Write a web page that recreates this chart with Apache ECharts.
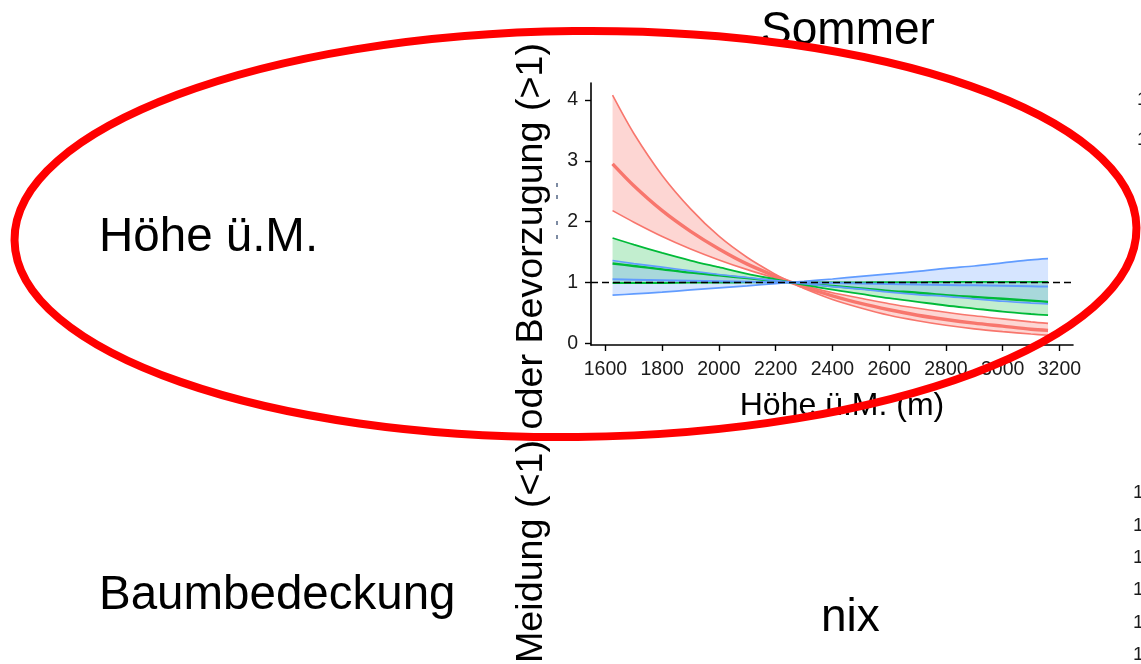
<!DOCTYPE html>
<html>
<head>
<meta charset="utf-8">
<title>Sommer – Höhe ü.M.</title>
<script src="https://cdn.jsdelivr.net/npm/echarts@6/dist/echarts.min.js"></script>
<style>
  html, body { margin: 0; padding: 0; background: #fff; }
  #chart { width: 1141px; height: 664px; }
</style>
</head>
<body>
<div id="chart"></div>
<script>
// Altitude (m) at which the response curves are sampled
const altitude = [1625, 1700, 1800, 1900, 2000, 2100, 2200, 2254, 2300, 2400, 2500, 2600, 2700, 2800, 2900, 3000, 3100, 3160];

// Red group: fitted curve and the two edges of its confidence band
const redMean  = [2.95, 2.59, 2.18, 1.84, 1.55, 1.30, 1.10, 1.00, 0.92, 0.78, 0.655, 0.55, 0.46, 0.39, 0.33, 0.28, 0.23, 0.21];
const redEdgeA = [4.08, 3.45, 2.76, 2.21, 1.76, 1.41, 1.13, 1.00, 0.90, 0.72, 0.58, 0.46, 0.37, 0.295, 0.236, 0.19, 0.15, 0.13];
const redEdgeB = [2.18, 1.99, 1.755, 1.55, 1.37, 1.21, 1.07, 1.00, 0.945, 0.83, 0.74, 0.65, 0.575, 0.51, 0.45, 0.40, 0.35, 0.325];

// Green group
const greenMean  = [1.31, 1.27, 1.215, 1.16, 1.115, 1.07, 1.02, 1.00, 0.98, 0.94, 0.90, 0.86, 0.83, 0.79, 0.76, 0.73, 0.70, 0.68];
const greenEdgeA = [1.73, 1.62, 1.485, 1.36, 1.25, 1.14, 1.05, 1.00, 0.96, 0.88, 0.81, 0.74, 0.68, 0.62, 0.57, 0.52, 0.48, 0.46];
const greenEdgeB = [0.99, 0.99, 0.99, 0.995, 0.995, 1.00, 1.00, 1.00, 1.00, 1.00, 1.00, 1.005, 1.005, 1.01, 1.01, 1.01, 1.01, 1.01];

// Blue group
const blueMean  = [1.05, 1.044, 1.036, 1.028, 1.02, 1.012, 1.004, 1.00, 0.996, 0.989, 0.981, 0.973, 0.966, 0.958, 0.951, 0.944, 0.936, 0.932];
const blueEdgeA = [1.36, 1.31, 1.25, 1.19, 1.13, 1.08, 1.03, 1.00, 0.98, 0.93, 0.89, 0.84, 0.80, 0.77, 0.73, 0.69, 0.66, 0.645];
const blueEdgeB = [0.79, 0.81, 0.84, 0.876, 0.91, 0.944, 0.98, 1.00, 1.017, 1.056, 1.10, 1.14, 1.18, 1.23, 1.27, 1.32, 1.37, 1.39];

// Tick labels
const xTicks = [1600, 1800, 2000, 2200, 2400, 2600, 2800, 3000, 3200];
const yTicks = [0, 1, 2, 3, 4];

const FONT = '"Liberation Sans", Arial, sans-serif';
const RED = '#F8766D', GREEN = '#00BA38', BLUE = '#619CFF';

// Confidence band polygon between the two edge curves
function band(name, edgeA, edgeB, fill) {
  return {
    type: 'custom',
    name: name,
    silent: true,
    z: 1,
    data: altitude.map((x, i) => [x, edgeA[i], edgeB[i]]),
    encode: { x: 0, y: [1, 2] },
    renderItem: function (params, api) {
      if (params.dataIndex !== 0) return null;
      const pts = [];
      for (let i = 0; i < altitude.length; i++) pts.push(api.coord([altitude[i], edgeA[i]]));
      for (let i = altitude.length - 1; i >= 0; i--) pts.push(api.coord([altitude[i], edgeB[i]]));
      return { type: 'polygon', shape: { points: pts }, style: { fill: fill } };
    }
  };
}

function curve(name, values, color, width) {
  return {
    type: 'line',
    name: name,
    data: altitude.map((x, i) => [x, values[i]]),
    showSymbol: false,
    symbol: 'none',
    smooth: 0.3,
    silent: true,
    z: 3,
    lineStyle: { color: color, width: width },
    emphasis: { disabled: true }
  };
}

const lastSeries = curve('blau', blueMean, BLUE, 2);
lastSeries.markLine = {
  silent: true,
  symbol: ['none', 'none'],
  label: { show: false },
  lineStyle: { type: [7, 4], color: '#000', width: 1.4 },
  data: [{ yAxis: 1 }]
};

function label(text, x, y, size, align) {
  return { type: 'text', x: x, y: y, z: 50,
    style: { text: text, font: size + 'px ' + FONT, fill: '#000', align: align || 'left', verticalAlign: 'middle' } };
}

function edgeDigit(x, y) {
  return { type: 'text', x: x, y: y, z: 50,
    style: { text: '1', font: '19px ' + FONT, fill: '#1a1a1a', align: 'left', verticalAlign: 'middle' } };
}

const option = {
  animation: false,
  backgroundColor: '#fff',
  grid: { left: 591, right: 68, top: 83, bottom: 319, containLabel: false, outerBoundsMode: 'none' },
  xAxis: {
    type: 'value',
    min: 1549,
    max: 3248,
    name: 'Höhe ü.M. (m)',
    nameLocation: 'middle',
    nameGap: 45,
    nameTextStyle: { fontFamily: FONT, fontSize: 32, color: '#000', padding: [0, 0, 0, 20] },
    axisLine: { show: true, onZero: false, lineStyle: { color: '#000', width: 1.6 } },
    axisTick: { show: true, length: 6, lineStyle: { color: '#000', width: 1.4 }, customValues: xTicks },
    axisLabel: { fontFamily: FONT, fontSize: 19.5, color: '#1a1a1a', margin: 15, customValues: xTicks, formatter: v => String(v) },
    splitLine: { show: false }
  },
  yAxis: {
    type: 'value',
    min: -0.03,
    max: 4.28,
    axisLine: { show: true, onZero: false, lineStyle: { color: '#000', width: 1.6 } },
    axisTick: { show: true, length: 6, lineStyle: { color: '#000', width: 1.4 }, customValues: yTicks },
    axisLabel: { fontFamily: FONT, fontSize: 19.5, color: '#1a1a1a', margin: 13, customValues: yTicks, formatter: v => String(v) },
    splitLine: { show: false }
  },
  series: [
    band('rot', redEdgeA, redEdgeB, 'rgba(248,118,109,0.30)'),
    band('grün', greenEdgeA, greenEdgeB, 'rgba(0,186,56,0.24)'),
    band('blau', blueEdgeA, blueEdgeB, 'rgba(97,156,255,0.26)'),
    curve('rot A', redEdgeA, RED, 1.6),
    curve('rot B', redEdgeB, RED, 1.6),
    curve('rot', redMean, RED, 3.4),
    curve('grün A', greenEdgeA, GREEN, 1.8),
    curve('grün B', greenEdgeB, GREEN, 1.8),
    curve('grün', greenMean, GREEN, 2.4),
    curve('blau A', blueEdgeA, BLUE, 1.7),
    curve('blau B', blueEdgeB, BLUE, 1.7),
    lastSeries
  ],
  graphic: [
    label('Sommer', 848, 31, 46, 'center'),
    label('Höhe ü.M.', 99, 238, 47.5),
    label('Baumbedeckung', 99, 596, 47.5),
    label('nix', 821, 618, 46),
    { type: 'text', x: 532, y: 353, rotation: Math.PI / 2, z: 50,
      style: { text: 'Meidung (<1) oder Bevorzugung (>1)', font: '37.7px ' + FONT, fill: '#000', align: 'center', verticalAlign: 'middle' } },
    // neighbouring panel's tick labels, cut by the right edge
    edgeDigit(1137, 100),
    edgeDigit(1137, 140),
    edgeDigit(1133, 493),
    edgeDigit(1133, 526),
    edgeDigit(1133, 558),
    edgeDigit(1133, 590),
    edgeDigit(1133, 623),
    edgeDigit(1133, 655),
    // small leftover marks beside the y axis
    { type: 'rect', shape: { x: 556, y: 183, width: 2, height: 4 }, z: 50, style: { fill: '#7d8ba3' } },
    { type: 'rect', shape: { x: 556, y: 195, width: 2, height: 4 }, z: 50, style: { fill: '#7d8ba3' } },
    { type: 'rect', shape: { x: 556, y: 221, width: 2, height: 4 }, z: 50, style: { fill: '#7d8ba3' } },
    { type: 'rect', shape: { x: 556, y: 235, width: 2, height: 4 }, z: 50, style: { fill: '#7d8ba3' } },
    // red highlight ellipse around the altitude panel
    { type: 'ellipse', x: 575.5, y: 234, rotation: 0.011, z: 100,
      shape: { cx: 0, cy: 0, rx: 561, ry: 203 },
      style: { fill: null, stroke: '#FF0000', lineWidth: 8 } }
  ]
};

const chart = echarts.init(document.getElementById('chart'), null, { renderer: 'canvas' });
chart.setOption(option);
</script>
</body>
</html>
